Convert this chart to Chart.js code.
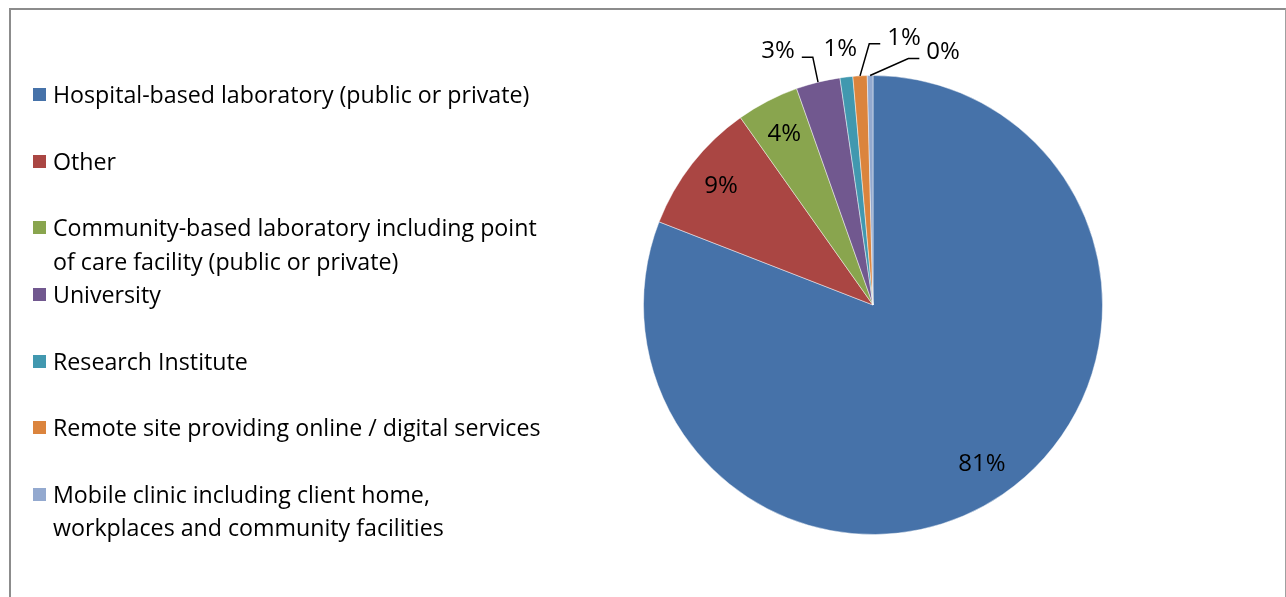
<!DOCTYPE html>
<html>
<head>
<meta charset="utf-8">
<script src="https://cdn.jsdelivr.net/npm/chart.js@4/dist/chart.umd.min.js"></script>
<style>
  html, body { margin: 0; padding: 0; background: #fff; }
  body { width: 1286px; height: 597px; position: relative; overflow: hidden; font-family: 'Open Sans', sans-serif; }
  #frame { position: absolute; left: 9px; top: 8px; width: 1274px; height: 620px;
           border-left: 2px solid #8c8c8c; border-top: 2px solid #8c8c8c; border-right: 1px solid #a0a0a0; }
  #chart { position: absolute; left: 0; top: 0; }
  #legend { position: absolute; left: 33px; top: 61.7px; font-size: 23.2px; color: #000; }
  .item { position: relative; height: 66.6px; padding-left: 20px; white-space: nowrap; }
  .swatch { position: absolute; left: 0; top: 26.5px; width: 13px; height: 13px; }
  .text { line-height: 33.3px; padding-top: 16.6px; }
</style>
</head>
<body>
<div id="frame"></div>
<canvas id="chart" width="1286" height="597"></canvas>
<div id="legend"></div>
<script>
//// PIE CHART

const categories = [
    'Hospital-based laboratory (public or private)',
    'Other',
    ['Community-based laboratory including point', 'of care facility (public or private)'],
    'University',
    'Research Institute',
    'Remote site providing online / digital services',
    ['Mobile clinic including client home,', 'workplaces and community facilities']
];
const shares = [80.9, 9.3, 4.4, 3.1, 0.9, 1.0, 0.4];
const colors = ['#4672A9', '#AA4643', '#89A54E', '#71588F', '#4198AF', '#DB843D', '#93A9CF'];

// small slices get their label outside, offset from the slice's outer edge
const outsideLabels = {
    3: { dx: -40, dy: -31, line: true },
    4: { dx: -6, dy: -28, line: false },
    5: { dx: 44, dy: -38, line: true },
    6: { dx: 73, dy: -23, line: true }
};

const pctLabels = {
    id: 'pctLabels',
    afterDatasetsDraw(chart, args, opts) {
        const ctx = chart.ctx;
        const meta = chart.getDatasetMeta(0);
        const data = chart.data.datasets[0].data;
        const total = data.reduce((a, b) => a + b, 0);
        ctx.save();
        ctx.font = opts.font;
        ctx.fillStyle = '#000';
        ctx.strokeStyle = '#000';
        ctx.lineWidth = 1.5;
        ctx.textAlign = 'center';
        ctx.textBaseline = 'middle';
        meta.data.forEach((arc, i) => {
            const { x, y, startAngle, endAngle, outerRadius } =
                arc.getProps(['x', 'y', 'startAngle', 'endAngle', 'outerRadius'], true);
            const mid = (startAngle + endAngle) / 2;
            const text = Math.round(data[i] / total * 100) + '%';
            const place = opts.outside[i];
            if (!place) {
                const r = outerRadius * opts.insideRatio;
                ctx.fillText(text, x + Math.cos(mid) * r, y + Math.sin(mid) * r);
                return;
            }
            const ex = x + Math.cos(mid) * outerRadius;
            const ey = y + Math.sin(mid) * outerRadius;
            const lx = ex + place.dx;
            const ly = ey + place.dy;
            ctx.fillText(text, lx, ly);
            if (place.line) {
                const half = ctx.measureText(text).width / 2;
                const side = place.dx < 0 ? 1 : -1;
                const endX = lx + side * (half + 7);
                const elbowX = endX + side * 11;
                const elbowY = ly + 6;
                ctx.beginPath();
                ctx.moveTo(ex, ey);
                ctx.lineTo(elbowX, elbowY);
                ctx.lineTo(endX, elbowY);
                ctx.stroke();
            }
        });
        ctx.restore();
    }
};

function buildLegend(el) {
    categories.forEach((label, i) => {
        const item = document.createElement('div');
        item.className = 'item';
        const sw = document.createElement('div');
        sw.className = 'swatch';
        sw.style.background = colors[i];
        const txt = document.createElement('div');
        txt.className = 'text';
        const lines = Array.isArray(label) ? label : [label];
        lines.forEach((line, j) => {
            if (j) txt.appendChild(document.createElement('br'));
            txt.appendChild(document.createTextNode(line));
        });
        item.appendChild(sw);
        item.appendChild(txt);
        el.appendChild(item);
    });
}

function createChart(container) {
    new Chart(container, {
        type: 'pie',
        data: {
            labels: categories,
            datasets: [{
                data: shares,
                backgroundColor: colors,
                borderColor: 'rgba(255,255,255,0.45)',
                borderWidth: 1,
                hoverOffset: 0
            }]
        },
        options: {
            responsive: false,
            animation: false,
            events: [],
            layout: { padding: { left: 643, right: 183, top: 75, bottom: 62 } },
            plugins: {
                legend: { display: false },
                tooltip: { enabled: false },
                pctLabels: {
                    font: "24px 'Open Sans'",
                    insideRatio: 0.84,
                    outside: outsideLabels
                }
            }
        },
        plugins: [pctLabels]
    });
}

buildLegend(document.getElementById('legend'));
createChart(document.getElementById('chart'));
</script>
</body>
</html>
